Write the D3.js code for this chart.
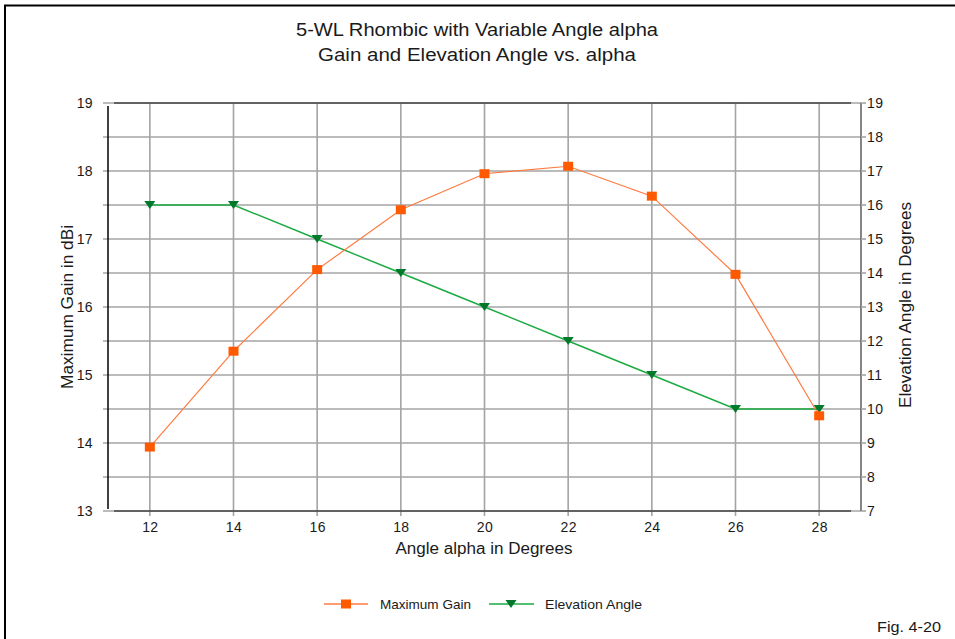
<!DOCTYPE html>
<html><head><meta charset="utf-8">
<script src="https://cdn.jsdelivr.net/npm/d3@7"></script>
<style>body{margin:0;background:#fff;}svg{display:block;font-family:"Liberation Sans",Arial,sans-serif;}</style>
</head><body>
<svg id="c" width="955" height="639"></svg>
<script>
const alpha = [12, 14, 16, 18, 20, 22, 24, 26, 28];
const gain = [13.94, 15.35, 16.55, 17.43, 17.96, 18.07, 17.63, 16.48, 14.40];
const elevation = [16, 16, 15, 14, 13, 12, 11, 10, 10];
const xTicks = [12, 14, 16, 18, 20, 22, 24, 26, 28];
const leftTicks = [13, 14, 15, 16, 17, 18, 19];
const rightTicks = [7, 8, 9, 10, 11, 12, 13, 14, 15, 16, 17, 18, 19];
const titleLines = ["5-WL Rhombic with Variable Angle alpha", "Gain and Elevation Angle vs. alpha"];

const svg = d3.select("#c");
const L = 108, R = 861, T = 103, B = 511;
const x = d3.scaleLinear().domain([11, 29]).range([L, R]);
const yL = d3.scaleLinear().domain([13, 19]).range([B, T]);
const yR = d3.scaleLinear().domain([7, 19]).range([B, T]);
const txt = "#1a1a1a";

// outer border
svg.append("path").attr("d", "M5,639 V5.5 H955").attr("fill", "none").attr("stroke", "#000").attr("stroke-width", 2);

// grid
const grid = svg.append("g");
grid.selectAll("line.h").data(rightTicks).join("line")
  .attr("x1", L - 5).attr("x2", R).attr("y1", d => yR(d)).attr("y2", d => yR(d))
  .attr("stroke", "#a4a4a4").attr("stroke-width", 1.6);
grid.selectAll("line.v").data(xTicks).join("line")
  .attr("x1", d => x(d)).attr("x2", d => x(d)).attr("y1", T).attr("y2", B + 5)
  .attr("stroke", "#a4a4a4").attr("stroke-width", 1.6);

// frame lines
svg.append("line").attr("x1", L + 6).attr("x2", R - 10).attr("y1", T).attr("y2", T).attr("stroke", "#444").attr("stroke-width", 1.6);
svg.append("line").attr("x1", L + 6).attr("x2", R - 10).attr("y1", B).attr("y2", B).attr("stroke", "#444").attr("stroke-width", 1.6);
svg.append("line").attr("x1", L).attr("x2", L).attr("y1", T + 3).attr("y2", B - 2).attr("stroke", "#111").attr("stroke-width", 1.6);
svg.append("line").attr("x1", R).attr("x2", R).attr("y1", T).attr("y2", B).attr("stroke", "#666").attr("stroke-width", 1.6);

// axes
const fmt = d3.format("d");
const axL = svg.append("g").attr("transform", `translate(${L - 4},0)`)
  .call(d3.axisLeft(yL).tickValues(leftTicks).tickFormat(fmt).tickSize(0).tickPadding(11));
const axR = svg.append("g").attr("transform", `translate(${R + 4},0)`)
  .call(d3.axisRight(yR).tickValues(rightTicks).tickFormat(fmt).tickSize(0).tickPadding(2));
svg.selectAll("line.rt").data(rightTicks).join("line")
  .attr("x1", R).attr("x2", R + 5).attr("y1", d => yR(d)).attr("y2", d => yR(d))
  .attr("stroke", "#a4a4a4").attr("stroke-width", 1.6);
const axB = svg.append("g").attr("transform", `translate(0,${B + 4})`)
  .call(d3.axisBottom(x).tickValues(xTicks).tickFormat(fmt).tickSize(0).tickPadding(7));
[axL, axR, axB].forEach(a => {
  a.select(".domain").remove();
  a.selectAll("text").attr("font-size", 14).attr("letter-spacing", 0.4).attr("fill", txt).attr("font-family", "'Liberation Sans',Arial,sans-serif");
});

// titles
svg.append("g").selectAll("text").data(titleLines).join("text")
  .attr("x", 477).attr("y", (d, i) => 36 + i * 25).attr("text-anchor", "middle")
  .attr("font-size", 17.5).attr("fill", txt).attr("textLength", (d,i)=> i===0?362:318).attr("lengthAdjust","spacingAndGlyphs").text(d => d);
svg.append("text").attr("x", 484).attr("y", 554).attr("text-anchor", "middle")
  .attr("font-size", 16).attr("fill", txt).attr("textLength", 177).attr("lengthAdjust","spacingAndGlyphs").text("Angle alpha in Degrees");
svg.append("text").attr("transform", "translate(73,307) rotate(-90)").attr("text-anchor", "middle")
  .attr("font-size", 16).attr("fill", txt).attr("textLength", 164).attr("lengthAdjust","spacingAndGlyphs").text("Maximum Gain in dBi");
svg.append("text").attr("transform", "translate(911,305) rotate(-90)").attr("text-anchor", "middle")
  .attr("font-size", 16).attr("fill", txt).attr("textLength", 206).attr("lengthAdjust","spacingAndGlyphs").text("Elevation Angle in Degrees");

// series
const gainCol = "#ff5a00", gainLine = "#ff7a40";
const elevCol = "#007a2a", elevLine = "#1aaa40";
const gData = alpha.map((a, i) => [a, gain[i]]);
const eData = alpha.map((a, i) => [a, elevation[i]]);
svg.append("path").datum(eData).attr("fill", "none").attr("stroke", elevLine).attr("stroke-width", 1.4)
  .attr("d", d3.line().x(d => x(d[0])).y(d => yR(d[1])));
svg.append("path").datum(gData).attr("fill", "none").attr("stroke", gainLine).attr("stroke-width", 1.2)
  .attr("d", d3.line().x(d => x(d[0])).y(d => yL(d[1])));
const tri = "M-5.5,-4 L5.5,-4 L0,4 Z";
svg.selectAll("path.em").data(eData).join("path").attr("class", "em")
  .attr("transform", d => `translate(${x(d[0])},${yR(d[1])})`).attr("d", tri).attr("fill", elevCol);
svg.selectAll("rect.gm").data(gData).join("rect").attr("class", "gm")
  .attr("x", d => x(d[0]) - 5).attr("y", d => yL(d[1]) - 4.5).attr("width", 10).attr("height", 9).attr("fill", gainCol);

// legend
const lg = svg.append("g");
lg.append("line").attr("x1", 324).attr("x2", 368).attr("y1", 604).attr("y2", 604).attr("stroke", gainLine).attr("stroke-width", 1.4);
lg.append("rect").attr("x", 341).attr("y", 599.5).attr("width", 10).attr("height", 9).attr("fill", gainCol);
lg.append("text").attr("x", 380).attr("y", 609).attr("font-size", 13.5).attr("fill", txt).attr("textLength", 91).attr("lengthAdjust","spacingAndGlyphs").text("Maximum Gain");
lg.append("line").attr("x1", 489).attr("x2", 534).attr("y1", 604).attr("y2", 604).attr("stroke", elevLine).attr("stroke-width", 1.4);
lg.append("path").attr("transform", "translate(511,604)").attr("d", tri).attr("fill", elevCol);
lg.append("text").attr("x", 545).attr("y", 609).attr("font-size", 13.5).attr("fill", txt).attr("textLength", 97).attr("lengthAdjust","spacingAndGlyphs").text("Elevation Angle");
svg.append("text").attr("x", 877).attr("y", 632).attr("font-size", 14.5).attr("fill", txt).attr("textLength", 64).attr("lengthAdjust","spacingAndGlyphs").text("Fig. 4-20");
</script>
</body></html>
